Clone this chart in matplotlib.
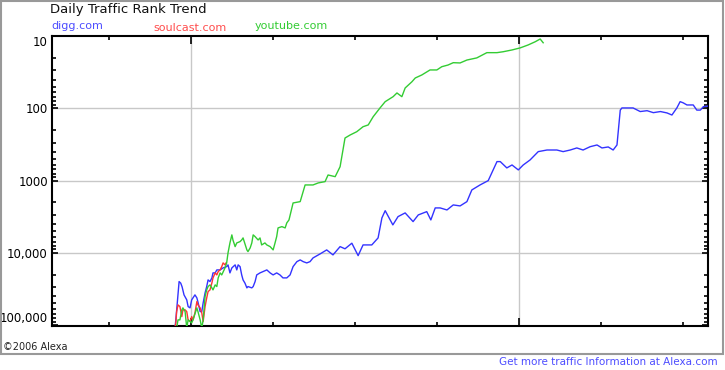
import matplotlib
matplotlib.use("Agg")
import matplotlib.pyplot as plt
from matplotlib.patches import Rectangle
from matplotlib.ticker import FixedLocator, FixedFormatter, LogLocator, NullFormatter

# day index (0 = left edge of the chart) and daily traffic rank
digg_days = [45.0, 45.3, 46.5, 47.1, 47.6, 48.3, 49.3, 49.8, 50.5, 51.1, 52.3, 53.0, 53.4,
             54.2, 54.8, 55.3, 56.0, 56.6, 57.1, 57.8, 58.5, 58.9, 59.7, 60.3, 61.5, 62.6,
             63.9, 64.4, 65.1, 65.8, 67.0, 67.6, 68.1, 68.8, 69.4, 69.9, 70.6, 71.3, 71.7,
             73.1, 73.6, 74.3, 74.9, 76.1, 77.2, 78.6, 79.8, 80.9, 82.2, 83.4, 84.5, 85.9,
             87.1, 88.2, 89.6, 90.8, 91.9, 93.2, 94.4, 95.5, 98.1, 100.5, 102.8, 105.4, 107.2,
             109.7, 112.0, 113.8, 117.0, 119.3, 120.7, 121.9, 124.7, 126.6, 129.2, 132.1,
             134.0, 137.1, 138.6, 140.2, 142.0, 144.5, 146.8, 149.3, 151.8, 153.6, 156.6,
             159.6, 162.8, 164.0, 166.4, 168.3, 170.6, 172.4, 174.9, 177.9, 181.1, 184.7,
             187.0, 189.6, 192.0, 194.3, 196.9, 199.4, 201.2, 203.5, 205.3, 206.7, 207.9,
             208.5, 212.6, 215.2, 217.7, 220.0, 222.6, 225.0, 226.8, 228.6, 229.8, 230.9,
             232.3, 234.6, 235.9, 237.2, 238.3, 240.1]
digg_rank = [110000, 84700, 25010, 26310, 29620, 38210, 44800, 55500, 57800, 44800, 38210,
             42070, 48000, 65100, 65100, 49300, 35880, 29310, 23710, 25010, 22240, 18970,
             18970, 17250, 17250, 16180, 15520, 14690, 18970, 16180, 14690, 17250, 14690,
             15520, 20230, 23710, 26310, 30580, 29310, 30580, 29310, 25010, 20230, 18970,
             18200, 17250, 18970, 20230, 18970, 20230, 22240, 22240, 20230, 15520, 13250,
             12540, 13250, 13800, 13250, 11770, 10350, 9120, 10690, 8210, 8800, 7365, 10940,
             7780, 7780, 6223, 3289, 2612, 4110, 3157, 2806, 3700, 2992, 2694, 3508, 2393,
             2393, 2553, 2175, 2245, 1958, 1349, 1151, 1002, 547, 547, 669, 609, 713, 609,
             519, 398, 378, 378, 398, 378, 354, 378, 340, 322, 354, 343, 378, 322, 106, 99,
             99, 111, 108, 115, 111, 116, 124, 99, 81, 84, 90, 90, 106, 106, 95, 93]

soulcast_days = [45.0, 45.3, 45.6, 46.1, 46.8, 47.5, 47.9, 48.7, 49.3, 49.8, 50.5, 51.1,
                 51.6, 52.3, 53.0, 53.4, 54.2, 54.8, 55.3, 56.0, 56.6, 57.1, 57.8, 58.5,
                 58.9, 59.7, 60.3, 60.8, 61.5, 62.1, 62.6, 63.3, 63.7]
soulcast_rank = [110000, 93300, 65100, 52600, 55500, 76300, 61600, 61600, 65100, 84700,
                 89500, 76300, 84700, 67800, 47300, 52600, 57800, 67800, 89500, 55500,
                 42070, 34410, 32610, 26080, 22240, 18970, 20230, 18200, 17250, 15520,
                 13800, 14690, 13800]

youtube_days = [45.6, 46.1, 46.8, 47.5, 47.9, 48.7, 49.3, 49.8, 51.1, 51.6, 53.0, 53.4,
                54.2, 54.8, 55.3, 56.0, 56.6, 57.1, 57.8, 58.5, 58.9, 59.7, 60.3, 60.8,
                61.5, 62.1, 63.3, 63.9, 64.4, 65.1, 65.8, 66.2, 67.0, 67.6, 68.8, 69.4,
                69.9, 71.3, 71.7, 72.5, 73.1, 73.6, 74.3, 75.4, 76.1, 76.7, 77.9, 78.6,
                79.8, 80.9, 81.6, 82.2, 82.7, 84.1, 85.3, 85.9, 86.7, 88.2, 90.8, 92.6,
                95.5, 97.4, 99.9, 101.0, 103.6, 105.4, 107.2, 109.1, 111.5, 113.8, 115.7,
                117.5, 120.0, 121.9, 124.8, 126.2, 128.0, 129.2, 131.7, 132.9, 135.3,
                138.3, 140.8, 142.6, 144.9, 146.8, 149.3, 151.8, 155.4, 159.1, 162.8,
                165.1, 168.3, 171.3, 174.2, 176.8, 178.6, 179.7]
youtube_rank = [110000, 84700, 84700, 61600, 57800, 65100, 110000, 84700, 93300, 84700,
                57800, 65100, 84700, 110000, 84700, 40330, 32610, 29310, 27800, 30580,
                32610, 27800, 29310, 22240, 18970, 20230, 16180, 13800, 10030, 7300, 5650,
                6640, 8210, 7300, 7000, 6640, 6223, 9120, 9620, 8550, 7300, 5650, 5970,
                6640, 6223, 7780, 7300, 7780, 8210, 9120, 7300, 5970, 4525, 4343, 4525,
                3855, 3508, 2043, 1958, 1151, 1151, 1079, 1035, 838, 884, 643, 258, 234,
                211, 180, 170, 131, 99, 81, 69.1, 61.4, 69.1, 52.4, 42.9, 38.1, 34.6,
                29.5, 29.5, 26.6, 25.2, 23.4, 23.6, 21.5, 20.1, 17.0, 17.0, 16.5, 15.6,
                14.6, 13.3, 12.0, 11.0, 12.4]

month_ticks = [21, 51, 81, 111, 141, 171, 201, 231]
grid_days = [51, 171]
rank_ticks = [10, 100, 1000, 10000, 100000]
rank_labels = ["10", "100", "1000", "10,000", "100,000"]

fig = plt.figure(figsize=(7.25, 3.7), dpi=100)
ax = fig.add_axes([52 / 725, 44 / 370, 656 / 725, 290 / 370])

ax.plot(digg_days, digg_rank, color="#3333ff", lw=1.0, zorder=3)
ax.plot(soulcast_days, soulcast_rank, color="#ff3333", lw=1.0, zorder=3)
ax.plot(youtube_days, youtube_rank, color="#33cc33", lw=1.0, zorder=3)

ax.set_yscale("log")
ax.set_ylim(103000, 10)
ax.set_xlim(0, 240)

ax.yaxis.set_major_locator(FixedLocator(rank_ticks))
ax.yaxis.set_major_formatter(FixedFormatter(rank_labels))
ax.yaxis.set_minor_locator(LogLocator(base=10, subs=range(2, 10)))
ax.yaxis.set_minor_formatter(NullFormatter())

ax.xaxis.set_major_locator(FixedLocator(grid_days))
ax.xaxis.set_minor_locator(FixedLocator([d for d in month_ticks if d not in grid_days]))
ax.set_xticklabels([])

ax.tick_params(axis="both", which="both", direction="in", top=True, right=True,
               width=1.2, color="black")
ax.tick_params(axis="both", which="major", length=6)
ax.tick_params(axis="both", which="minor", length=3)
ax.tick_params(axis="y", which="major", length=4, labelsize=8.5, pad=3)

for i, lab in enumerate(ax.get_yticklabels()):
    if i == 0:
        lab.set_verticalalignment("top")
    elif i == len(rank_ticks) - 1:
        lab.set_verticalalignment("bottom")

for r in rank_ticks[1:-1]:
    ax.axhline(r, color="#c8c8c8", lw=1.0, zorder=1)
for d in grid_days:
    ax.axvline(d, color="#c8c8c8", lw=1.0, zorder=1)

for s in ax.spines.values():
    s.set_linewidth(1.5)

fig.text(50 / 725, 1 - 10 / 370, "Daily Traffic Rank Trend", fontsize=9.5,
         ha="left", va="center", color="#111111")
fig.text(51 / 725, 1 - 26 / 370, "digg.com", fontsize=8, color="#4d4dff",
         ha="left", va="center")
fig.text(153 / 725, 1 - 28 / 370, "soulcast.com", fontsize=8, color="#ff4d4d",
         ha="left", va="center")
fig.text(255 / 725, 1 - 26 / 370, "youtube.com", fontsize=8, color="#33cc33",
         ha="left", va="center")
fig.text(3 / 725, 1 - 347 / 370, "©2006 Alexa", fontsize=7, color="#222222",
         ha="left", va="center")
fig.text(718 / 725, 1 - 362 / 370, "Get more traffic Information at Alexa.com",
         fontsize=7.5, color="#4d4dff", ha="right", va="center")

# grey frame around the chart area
fig.patches.append(Rectangle((1 / 725, 1 - 354 / 370), 722 / 725, 353 / 370,
                             transform=fig.transFigure, fill=False,
                             edgecolor="#999999", lw=1.5))

fig.savefig("out.png", dpi=100)
